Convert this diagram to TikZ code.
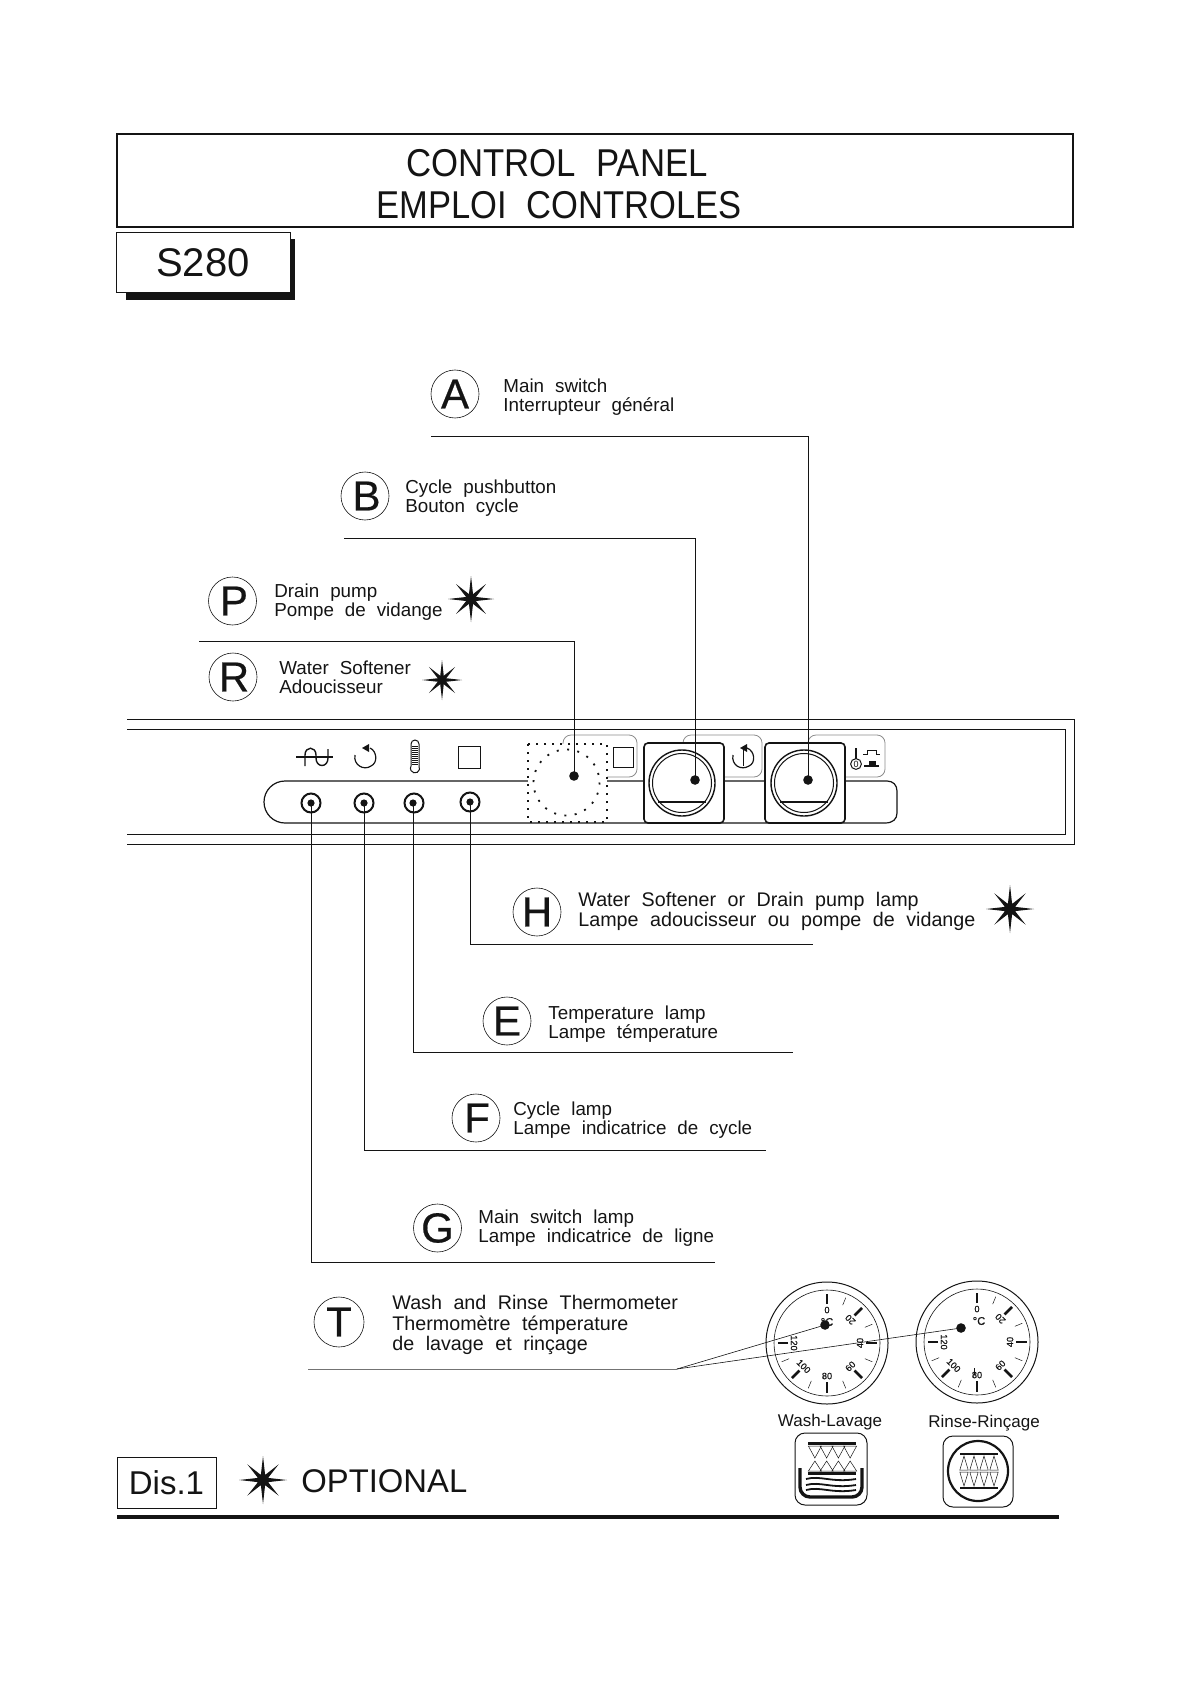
\documentclass[tikz,border=0pt]{standalone}
\usepackage{graphicx}
\usepackage{fontspec}
\setmainfont[WordSpace=2.1]{Liberation Sans}
\newfontfamily\heavy[FakeBold=0.5,WordSpace=2.1]{Liberation Sans}
\newcommand\optstar[3]{\fill[shift={(#1,#2)},inkc]
  (0:#3) \foreach \a in {0,90,180,270}{ -- (\a+22.5:0.23*#3) -- (\a+45:0.92*#3) -- (\a+67.5:0.23*#3) -- (\a+90:#3)} -- cycle;}
\definecolor{inkc}{gray}{0.08}
\tikzset{
  px/.style={x=0.5pt,y=-0.5pt},
  frame/.style={draw=inkc,line width=0.5pt},
  lettercirc/.style={circle,draw=inkc,line width=0.3pt,minimum size=24pt,inner sep=0pt,font=\heavy\fontsize{21}{21}\selectfont,text=inkc},
  lbl/.style={anchor=west,align=left,inner sep=0pt,text=inkc,font=\fontsize{9.4}{9.5}\selectfont},
  conn/.style={draw=inkc,line width=0.5pt},
  dotn/.style={circle,fill=inkc,minimum size=4.8pt,inner sep=0pt},
  lampring/.style={circle,draw=inkc,line width=1pt,minimum size=9.5pt,inner sep=0pt},
  tabbox/.style={draw=black!45,line width=0.4pt,rounded corners=4pt,fill=white},
  icon/.style={draw=inkc,line width=0.5pt},
  knobbox/.style={draw=inkc,line width=0.8pt,rounded corners=2pt,fill=white},
  tnum/.style={font=\heavy\fontsize{4.6}{5}\selectfont,inner sep=0pt,text=inkc},
  ticklong/.style={draw=inkc,line width=1.3pt},
  tickshort/.style={draw=inkc,line width=0.25pt},
  capt/.style={font=\fontsize{8.5}{9}\selectfont,inner sep=0pt,text=inkc},
  headt/.style={inner sep=0pt,text=inkc,font=\fontsize{19.4}{19.4}\selectfont},
}
\newcommand\dial[3]{% x y degree-label position
  \begin{scope}[shift={(#1,#2)}]
  \draw[icon,line width=0.5pt] (0,0) circle (61);
  \draw[icon,line width=0.3pt] (0,0) circle (53);
  \foreach \a/\t/\r in {0/0/0,45/20/135,90/40/90,135/60/45,180/80/0,225/100/-45,270/120/-90}{
    \draw[ticklong] (\a-90:39) -- (\a-90:49.5);
    \node[tnum,rotate=\r] at (\a-90:33) {\t};
  }
  \foreach \a in {22.5,67.5,112.5,157.5,202.5,247.5}
    \draw[tickshort] (\a-90:41) -- (\a-90:49);
  \node[tnum,font=\heavy\fontsize{5.6}{6}\selectfont] at (#3) {°C};
  \end{scope}}
\newcommand\zigrow[6]{% x0 dx n ytop ybot halfwidth
  \foreach \i in {1,...,#3}{
    \draw[icon,line width=0.25pt] ({#1+(\i-0.5)*#2-#6},#4) -- ({#1+(\i-0.5)*#2},#5) -- ({#1+(\i-0.5)*#2+#6},#4) -- cycle;}}
\begin{document}
\begin{tikzpicture}[px]
\useasboundingbox (0,0) rectangle (1190,1684);
% title
\node[draw=inkc,line width=0.8pt,minimum width=478pt,minimum height=46.5pt,inner sep=0pt] (titlebox) at (595,180.5) {};
\node[headt] (t1) at (557,163) {\scalebox{0.895}[1]{CONTROL PANEL}};
\node[headt] (t2) at (559,205) {\scalebox{0.89}[1]{EMPLOI CONTROLES}};
% model
\fill[inkc] (126,239) rectangle (295,300);
\node[draw=inkc,fill=white,line width=0.5pt,minimum width=87pt,minimum height=30pt,inner sep=0pt,text=inkc,font=\fontsize{20}{20}\selectfont] (model) at (203,262.5) {S280\hspace{2.5pt}};
% panel
\draw[frame] (127,719) -- (1074,719) -- (1074,844) -- (127,844);
\draw[frame] (127,729) -- (1065,729) -- (1065,834) -- (127,834);
% tabs
\draw[tabbox] (563,735) rectangle (637,777);
\draw[tabbox] (683,735) rectangle (762,777);
\draw[tabbox] (808,735) rectangle (885,777);
% lamp strip
\draw[icon,line width=0.6pt] (285,781) arc (-90:-270:21) -- (885,823) .. controls (893,823) and (897,819) .. (897,813) -- (897,791) .. controls (897,785) and (893,781) .. (887,781) -- cycle;
% panel icons
\draw[icon,line width=0.9pt] (296,757) -- (333,757);
\draw[icon,line width=0.7pt] (305,766) -- (305,755) .. controls (305,746) and (316,746) .. (316,755) -- (316,758) .. controls (316,768) and (328,768) .. (328,758) -- (328,749);
\draw[icon,line width=0.6pt] (370,748) .. controls (377,751) and (378,763) .. (371,766) .. controls (364,771) and (353,765) .. (355,755);
\fill[inkc] (362,748) -- (369,744) -- (369,752) -- cycle;
\draw[icon,line width=0.5pt] (411,766) -- (411,744) arc (180:360:4) -- (419,766) arc (-30:210:4.6);
\foreach \yy in {746,748,...,764} \draw[icon,line width=0.45pt] (412,\yy) -- (418,\yy);
\draw[icon] (458,746) rectangle (480,768);
% dotted selector
\fill[white] (528,744) rectangle (607,822);
\draw[inkc,line width=1pt,dash pattern=on 1pt off 3pt] (528,744) rectangle (607,822);
\draw[inkc,line width=0.9pt,dash pattern=on 1pt off 4.2pt] (566.5,782.5) circle (33);
\draw[icon] (613,747) rectangle (633,767);
% knobs
\node[knobbox,minimum width=40pt,minimum height=40pt,inner sep=0pt] (knobB) at (684,783) {};
\node[knobbox,minimum width=40pt,minimum height=40pt,inner sep=0pt] (knobA) at (805,783) {};
\draw[inkc,line width=1.2pt] (648,743) -- (720,743);
\draw[inkc,line width=1.2pt] (769,743) -- (841,743);
\foreach \kx in {682,804}{
  \draw[icon,line width=0.7pt] (\kx,783) circle (33);
  \draw[icon,line width=0.5pt] (\kx,783) circle (29.5);
  \draw[inkc,line width=1pt] ({\kx-24},802) -- ({\kx+24},802);
}
% tab icons
\draw[icon,line width=0.6pt] (747,748) .. controls (755,751) and (756,763) .. (749,766) .. controls (741,771) and (731,765) .. (733,755);
\fill[inkc] (740,748) -- (747,744) -- (747,752) -- cycle;
\draw[icon,line width=0.5pt] (743,750) -- (743,766);
\draw[icon,line width=0.7pt] (856,748) -- (856,759);
\node[circle,draw=inkc,line width=0.5pt,minimum size=5.4pt,inner sep=0pt,font=\fontsize{4.5}{5}\selectfont,text=inkc] (zero) at (856,764) {0};
\draw[icon,line width=0.5pt] (863,754) -- (867,754) -- (867,750) -- (876,750) -- (876,754) -- (880,754);
\draw[icon,line width=0.8pt] (864,766) -- (879,766);
\fill[inkc] (869,761) rectangle (876,766);
% dots
\node[dotn] (dotP) at (574,776) {};
\node[dotn] (dotB) at (695,780) {};
\node[dotn] (dotA) at (808,780) {};
\node[lampring] (ringG) at (311,803) {};
\node[lampring] (ringF) at (364,803) {};
\node[lampring] (ringE) at (414,803) {};
\node[lampring] (ringH) at (470,802) {};
\node[dotn,minimum size=3.6pt] (lampG) at (311,803) {};
\node[dotn,minimum size=3.6pt] (lampF) at (364,803) {};
\node[dotn,minimum size=3.6pt] (lampE) at (413,803) {};
\node[dotn,minimum size=3.6pt] (lampH) at (470,802) {};
% labels
\node[lettercirc] (cA) at (455,394) {A};
\node[lbl] (tA) at (503,397) {Main switch\\Interrupteur général};
\node[lettercirc] (cB) at (365,496) {\hspace{1.5pt}B};
\node[lbl] (tB) at (405,498) {Cycle pushbutton\\Bouton cycle};
\node[lettercirc] (cP) at (232.5,601) {\hspace{1.5pt}P};
\node[lbl] (tP) at (274,602) {Drain pump\\Pompe de vidange};
\optstar{471}{599}{23}
\node[lettercirc] (cR) at (233,677) {\hspace{1pt}R};
\node[lbl] (tR) at (279,677) {Water Softener\\Adoucisseur};
\optstar{442}{680}{20}
\node[lettercirc] (cH) at (537,912) {H};
\node[lbl,font=\fontsize{9.85}{10}\selectfont] (tH) at (578,911.5) {Water Softener or Drain pump lamp\\Lampe adoucisseur ou pompe de vidange};
\optstar{1010}{909}{24}
\node[lettercirc] (cE) at (507,1021) {E};
\node[lbl] (tE) at (548,1024) {Temperature lamp\\Lampe témperature};
\node[lettercirc] (cF) at (476,1118) {\hspace{1pt}F};
\node[lbl] (tF) at (513,1120.5) {Cycle lamp\\Lampe indicatrice de cycle};
\node[lettercirc] (cG) at (437.5,1228) {G};
\node[lbl] (tG) at (478,1228.5) {Main switch lamp\\Lampe indicatrice de ligne};
\node[lettercirc,minimum size=25pt] (cT) at (339,1322) {T};
\node[lbl,font=\fontsize{9.85}{10.2}\selectfont] (tT) at (392,1325) {Wash and Rinse Thermometer\\Thermomètre témperature\\de lavage et rinçage};
% connector free ends
\coordinate (sA) at (431,437);
\coordinate (sB) at (344,538);
\coordinate (sP) at (199,641);
\coordinate (eH) at (813,944);
\coordinate (eE) at (793,1052);
\coordinate (eF) at (766,1150);
\coordinate (eG) at (715,1262);
\coordinate (sT) at (308,1369);
\coordinate (jT) at (677,1369);
\draw[conn] (sA) -| (dotA.center);
\draw[conn] (sB) -| (dotB.center);
\draw[conn] (sP) -| (dotP.center);
\draw[conn] (lampH.center) |- (eH);
\draw[conn] (lampE.center) |- (eE);
\draw[conn] (lampF.center) |- (eF);
\draw[conn] (lampG.center) |- (eG);
% thermometers
\dial{827}{1343}{0,-21}
\dial{977}{1342}{2,-21}
\draw[icon,line width=0.3pt] (974,1368) -- (974,1375);
\node[dotn] (dotT1) at (825,1325) {};
\node[dotn] (dotT2) at (961,1328) {};
\draw[conn,draw=black!55,line width=0.5pt] (sT) -- (jT);
\draw[conn,line width=0.3pt] (jT) -- (dotT1.center);
\draw[conn,line width=0.3pt] (jT) -- (dotT2.center);
\node[capt] (capW) at (830,1422.5) {Wash-Lavage};
\node[capt] (capR) at (984,1423.5) {Rinse-Rinçage};
% wash icon
\draw[icon,rounded corners=5pt] (795,1433) rectangle (867,1505);
\draw[inkc,line width=1.5pt] (808,1443.5) -- (856,1443.5);
\draw[inkc,line width=1.5pt] (808,1473) -- (856,1473);
\zigrow{809}{11.75}{4}{1446}{1458}{6.5}
\zigrow{809}{11.75}{4}{1471}{1461}{6.5}
\draw[inkc,line width=1.7pt,rounded corners=5pt] (800,1468) -- (800,1497) -- (862,1497) -- (862,1468);
\foreach \wy in {1479,1485,1490}
  \draw[inkc,line width=0.9pt] (806,\wy) .. controls (820,{\wy-4}) and (832,{\wy+4}) .. (856,\wy);
% rinse icon
\draw[icon,rounded corners=5pt] (943,1436) rectangle (1013,1507);
\draw[inkc,line width=1.1pt] (978,1471) circle (30);
\draw[inkc,line width=1.1pt] (960,1454) -- (998,1454);
\draw[inkc,line width=1.1pt] (960,1488) -- (998,1488);
\zigrow{959}{10}{4}{1470}{1456}{4.2}
\zigrow{959}{10}{4}{1472}{1486}{4.2}
% footer
\node[draw=inkc,line width=0.5pt,minimum width=49.5pt,minimum height=25.5pt,inner sep=0pt,text=inkc,font=\fontsize{16.5}{16.5}\selectfont] (dis) at (166.5,1482.5) {Dis.1};
\optstar{263}{1480}{24}
\node[anchor=west,inner sep=0pt,text=inkc,font=\fontsize{16.4}{16.4}\selectfont] (optl) at (301,1481) {OPTIONAL};
\coordinate (fL) at (117,1517);
\coordinate (fR) at (1059,1517);
\draw[inkc,line width=1.8pt] (fL) -- (fR);
\end{tikzpicture}
\end{document}
